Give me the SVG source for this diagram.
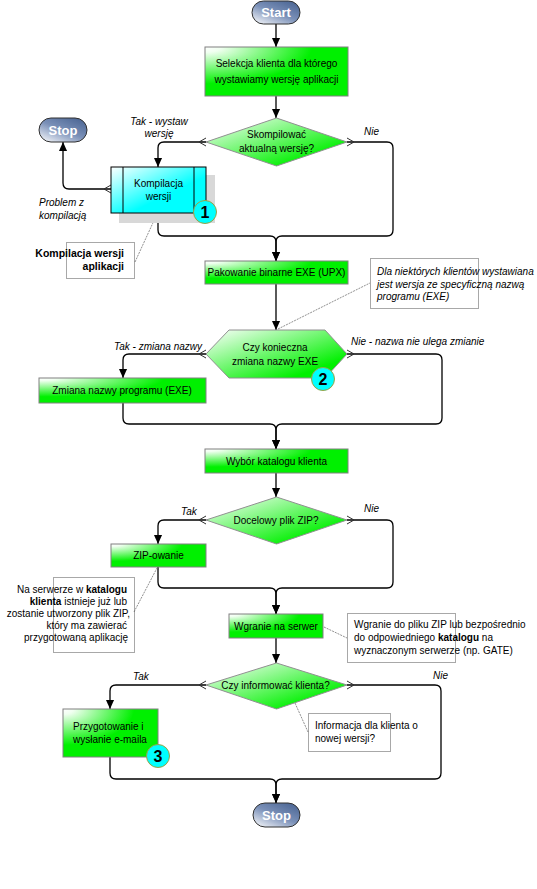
<svg xmlns="http://www.w3.org/2000/svg" width="537" height="889" viewBox="0 0 537 889">
<style>
text{font-family:"Liberation Sans",Arial,sans-serif;font-size:10px;fill:#000}
.c{text-anchor:middle}
.r{text-anchor:end}
.i{font-style:italic}
.b{font-weight:bold}
.box{fill:url(#gGreen);stroke:#808080;stroke-width:1}
.dia{fill:url(#gDia);stroke:#909090;stroke-width:1}
.pill{fill:url(#gPill);stroke:#303030;stroke-width:1}
.pt{font-size:13px;font-weight:bold;fill:#fff;text-anchor:middle}
.badge{fill:#00ffff;stroke:#a0a040;stroke-width:1}
.bt{font-size:16px;font-weight:bold;text-anchor:middle}
.note{fill:none;stroke:#505050;stroke-width:1;stroke-dasharray:1 1}
.lead{stroke:#909090;stroke-width:1;stroke-dasharray:2 1;fill:none}
.conn path{fill:none;stroke:#000;stroke-width:1.3}
.a{marker-end:url(#arr)}
.s{marker-start:url(#chev)}
</style>
<defs>
<radialGradient id="gGreen" cx="0" cy="0" r="0.75" fx="0" fy="0">
<stop offset="0" stop-color="#ffffff"/>
<stop offset="0.15" stop-color="#f0fff0"/>
<stop offset="1" stop-color="#00f000"/>
</radialGradient>
<linearGradient id="gDia" x1="0" y1="0" x2="1" y2="1">
<stop offset="0" stop-color="#ffffff"/>
<stop offset="0.8" stop-color="#00f000"/>
</linearGradient>
<linearGradient id="gCyan" x1="0" y1="0" x2="1" y2="1">
<stop offset="0" stop-color="#ffffff"/>
<stop offset="0.6" stop-color="#00ffff"/>
</linearGradient>
<linearGradient id="gPill" x1="0" y1="1" x2="0.8" y2="0">
<stop offset="0" stop-color="#ffffff"/>
<stop offset="0.55" stop-color="#7a90b8"/>
<stop offset="1" stop-color="#4e6896"/>
</linearGradient>
<marker id="arr" viewBox="0 0 10 10" refX="10" refY="5" markerWidth="9" markerHeight="9" markerUnits="userSpaceOnUse" orient="auto">
<path d="M0,0.5 L10,5 L0,9.5 z" fill="#000"/>
</marker>
<marker id="chev" viewBox="0 0 8 10" refX="0" refY="5" markerWidth="8" markerHeight="10" markerUnits="userSpaceOnUse" orient="auto">
<path d="M0,1 L7,5 L0,9" fill="none" stroke="#303030" stroke-width="1"/>
</marker>
</defs>
<rect width="537" height="889" fill="#fff"/>

<g id="connectors" class="conn">
<path class="a" d="M276,24 V47"/>
<path class="a" d="M276,96 V118"/>
<path class="a s" d="M206,142 H164 Q158,142 158,148 V167"/>
<path class="a s" d="M347,142 H387 Q393,142 393,148 V230 Q393,236 387,236 H282 Q276,236 276,242 V261"/>
<path class="a s" d="M158,213 V230 Q158,236 164,236 H270 Q276,236 276,242 V261"/>
<path class="a s" d="M111,189 H69 Q63,189 63,183 V142"/>
<path class="a" d="M276,284 V330"/>
<path class="a s" d="M206,354 H129 Q123,354 123,360 V378"/>
<path class="a s" d="M347,354 H436 Q442,354 442,360 V418 Q442,424 436,424 H282 Q276,424 276,430 V449"/>
<path class="a" d="M123,403 V418 Q123,424 129,424 H270 Q276,424 276,430 V449"/>
<path class="a" d="M276,473 V497"/>
<path class="a s" d="M206,520 H164 Q158,520 158,526 V544"/>
<path class="a s" d="M347,520 H387 Q393,520 393,526 V582 Q393,588 387,588 H282 Q276,588 276,594 V614"/>
<path class="a" d="M158,567 V582 Q158,588 164,588 H270 Q276,588 276,594 V614"/>
<path class="a" d="M276,638 V663"/>
<path class="a s" d="M206,685 H116 Q110,685 110,691 V709"/>
<path class="a s" d="M347,685 H435 Q441,685 441,691 V773 Q441,779 435,779 H282 Q276,779 276,785 V803"/>
<path class="a" d="M110,757 V773 Q110,779 116,779 H270 Q276,779 276,785 V803"/>
</g>

<g id="leaders">
<path class="lead" d="M135,262 L157,214"/>
<path class="lead" d="M278,329 L370,283"/>
<path class="lead" d="M134,612 L157,568"/>
<path class="lead" d="M324,627 L347,638"/>
<path class="lead" d="M295,703 L308,732"/>
</g>

<g id="start">
<rect class="pill" x="252" y="1" width="48" height="23" rx="11.5"/>
<text class="pt" x="276" y="17">Start</text>
</g>

<g id="selekcja">
<rect class="box" x="205" y="47" width="143" height="49"/>
<text class="c" x="276.5" y="67">Selekcja klienta dla którego</text>
<text class="c" x="276.5" y="83">wystawiamy wersję aplikacji</text>
</g>

<g id="d-skompilowac">
<polygon class="dia" points="206,142 276.5,118 347,142 276.5,166"/>
<text class="c" x="276.5" y="138">Skompilować</text>
<text class="c" x="276.5" y="152">aktualną wersję?</text>
</g>
<text class="i c" x="159" y="125">Tak - wystaw</text>
<text class="i c" x="159" y="137">wersję</text>
<text class="i" x="364" y="135">Nie</text>

<g id="stop1">
<rect class="pill" x="39" y="118" width="48" height="24" rx="12"/>
<text class="pt" x="63" y="134.5">Stop</text>
</g>
<text class="i" x="39" y="206">Problem  z</text>
<text class="i" x="39" y="219">kompilacją</text>

<g id="kompilacja">
<rect x="119" y="175" width="96" height="48" fill="#d8d8d8"/>
<rect x="111" y="167" width="95" height="46" fill="url(#gCyan)" stroke="#000" stroke-width="1"/>
<line x1="123" y1="167" x2="123" y2="213" stroke="#000"/>
<line x1="194" y1="167" x2="194" y2="213" stroke="#000"/>
<text class="c" x="158.5" y="187">Kompilacja</text>
<text class="c" x="158.5" y="200">wersji</text>
<circle class="badge" cx="205" cy="212" r="11.5"/>
<text class="bt" x="205" y="218">1</text>
</g>

<g id="note-kompilacja">
<rect class="note" x="66.5" y="242.5" width="68" height="36"/>
<text class="b r" x="124" y="257" style="font-size:10.5px">Kompilacja wersji</text>
<text class="b r" x="124" y="270" style="font-size:10.5px">aplikacji</text>
</g>

<g id="pakowanie">
<rect class="box" x="205" y="261" width="143" height="23"/>
<text class="c" x="276.5" y="275.5">Pakowanie binarne EXE (UPX)</text>
</g>

<g id="note-exe">
<rect class="note" x="370.5" y="258.5" width="108" height="50"/>
<text class="i" x="377" y="275">Dla niektórych klientów wystawiana</text>
<text class="i" x="377" y="287.5">jest wersja ze specyficzną nazwą</text>
<text class="i" x="377" y="300">programu (EXE)</text>
</g>

<g id="d-nazwa">
<polygon class="dia" points="206,354 229,330 325,330 347,354 325,378 229,378"/>
<text class="c" x="275" y="351">Czy konieczna</text>
<text class="c" x="275" y="364.5">zmiana nazwy EXE</text>
<circle class="badge" cx="323" cy="379" r="11.5"/>
<text class="bt" x="323" y="385">2</text>
</g>
<text class="i r" x="202" y="350">Tak - zmiana nazwy</text>
<text class="i" x="351" y="345">Nie - nazwa nie ulega zmianie</text>

<g id="zmiana">
<rect class="box" x="39" y="378" width="167" height="25"/>
<text class="c" x="122" y="393.5">Zmiana nazwy programu (EXE)</text>
</g>

<g id="wybor">
<rect class="box" x="205" y="449" width="143" height="24"/>
<text class="c" x="276.5" y="465">Wybór katalogu klienta</text>
</g>

<g id="d-zip">
<polygon class="dia" points="206,520 276.5,497 347,520 276.5,544"/>
<text class="c" x="276" y="523.5">Docelowy plik ZIP?</text>
</g>
<text class="i" x="181" y="515">Tak</text>
<text class="i" x="364" y="512">Nie</text>

<g id="zip">
<rect class="box" x="111" y="544" width="95" height="23"/>
<text class="c" x="158.5" y="559">ZIP-owanie</text>
</g>

<g id="note-zip">
<rect class="note" x="53.5" y="577.5" width="81" height="75"/>
<text class="r" x="127" y="593">Na serwerze w <tspan class="b">katalogu</tspan></text>
<text class="r" x="127" y="605"><tspan class="b">klienta</tspan> istnieje już lub</text>
<text class="r" x="130" y="617">zostanie utworzony plik ZIP,</text>
<text class="r" x="127" y="629">który ma zawierać</text>
<text class="r" x="128" y="641">przygotowaną aplikację</text>
</g>

<g id="wgranie">
<rect class="box" x="229" y="614" width="94" height="24"/>
<text class="c" x="276" y="629.5">Wgranie na serwer</text>
</g>

<g id="note-wgranie">
<rect class="note" x="347.5" y="613.5" width="108" height="49"/>
<text x="354" y="628">Wgranie do pliku ZIP lub bezpośrednio</text>
<text x="354" y="641">do odpowiedniego <tspan class="b">katalogu</tspan> na</text>
<text x="354" y="653.5">wyznaczonym serwerze (np. GATE)</text>
</g>

<g id="d-informowac">
<polygon class="dia" points="206,685 276.5,663 347,685 276.5,709"/>
<text class="c" x="275.5" y="688.5">Czy informować klienta?</text>
</g>
<text class="i" x="133" y="680">Tak</text>
<text class="i" x="433" y="679">Nie</text>

<g id="note-info">
<rect class="note" x="308.5" y="713.5" width="82" height="38"/>
<text x="315" y="728.5">Informacja dla klienta  o</text>
<text x="315" y="742">nowej wersji?</text>
</g>

<g id="przygotowanie">
<rect class="box" x="63" y="709" width="95" height="48"/>
<text x="73" y="730">Przygotowanie i</text>
<text x="73" y="743">wysłanie e-maila</text>
<circle class="badge" cx="158" cy="756" r="11.5"/>
<text class="bt" x="158" y="762">3</text>
</g>

<g id="stop2">
<rect class="pill" x="253" y="803" width="47" height="24" rx="12"/>
<text class="pt" x="276.5" y="819.5">Stop</text>
</g>
</svg>
